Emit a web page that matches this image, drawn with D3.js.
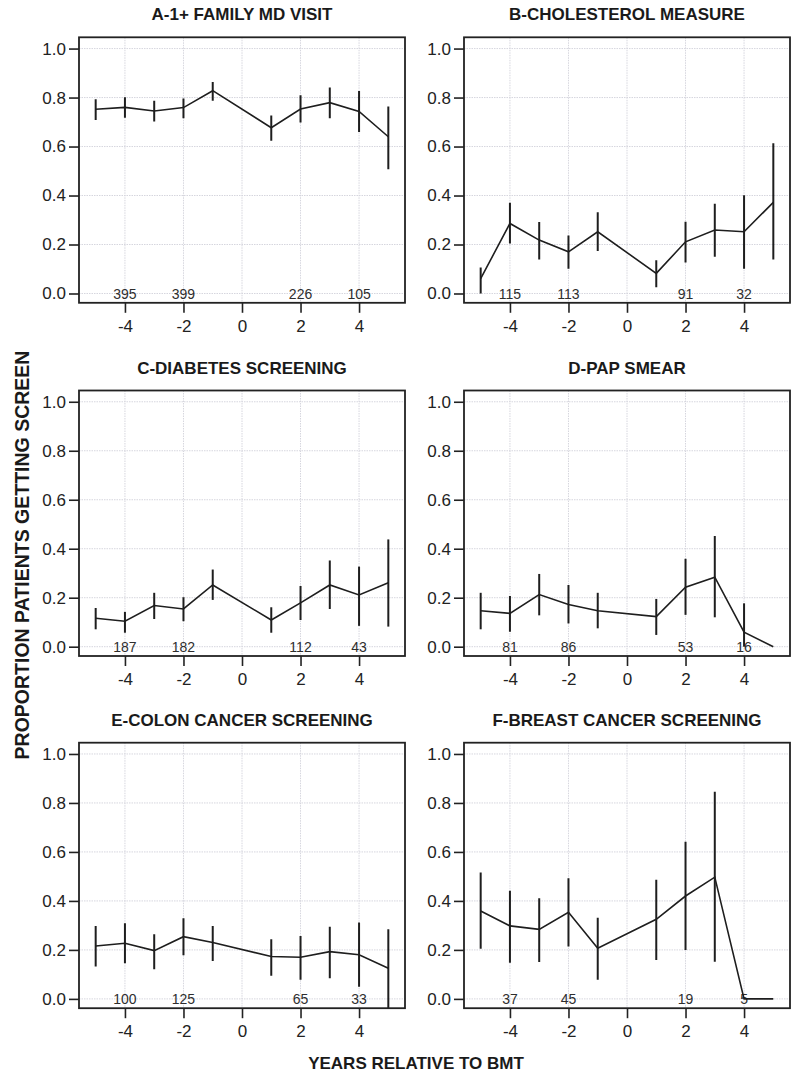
<!DOCTYPE html>
<html>
<head>
<meta charset="utf-8">
<script src="https://cdn.jsdelivr.net/npm/d3@7"></script>
<style>
  html, body { margin: 0; padding: 0; background: #fff; }
  svg { display: block; font-family: "Liberation Sans", Arial, Helvetica, sans-serif; }
</style>
</head>
<body>
<svg id="chart" width="795" height="1073"></svg>
<script>
// ---------- data ----------
const years = [-5, -4, -3, -2, -1, 1, 2, 3, 4, 5];
const xTicks = [-4, -2, 0, 2, 4];
const yTicks = [0, 0.2, 0.4, 0.6, 0.8, 1.0];
const countYears = [-4, -2, 2, 4];

const panelTitles = [
  "A-1+ FAMILY MD VISIT", "B-CHOLESTEROL MEASURE",
  "C-DIABETES SCREENING", "D-PAP SMEAR",
  "E-COLON CANCER SCREENING", "F-BREAST CANCER SCREENING"
];

const famMdEst = [0.752, 0.760, 0.745, 0.759, 0.828, 0.677, 0.753, 0.779, 0.743, 0.640];
const famMdLo  = [0.708, 0.718, 0.702, 0.715, 0.787, 0.624, 0.698, 0.715, 0.659, 0.507];
const famMdHi  = [0.793, 0.801, 0.787, 0.796, 0.864, 0.727, 0.809, 0.841, 0.827, 0.763];
const famMdN   = [395, 399, 226, 105];

const cholEst = [0.061, 0.286, 0.218, 0.170, 0.252, 0.082, 0.211, 0.259, 0.252, 0.372];
const cholLo  = [0.000, 0.204, 0.139, 0.101, 0.174, 0.025, 0.127, 0.150, 0.101, 0.139];
const cholHi  = [0.106, 0.371, 0.292, 0.237, 0.332, 0.136, 0.293, 0.366, 0.401, 0.613];
const cholN   = [115, 113, 91, 32];

const diabEst = [0.116, 0.104, 0.168, 0.154, 0.252, 0.109, 0.179, 0.252, 0.211, 0.261];
const diabLo  = [0.071, 0.057, 0.113, 0.104, 0.191, 0.057, 0.109, 0.154, 0.085, 0.082];
const diabHi  = [0.158, 0.142, 0.220, 0.202, 0.315, 0.161, 0.248, 0.352, 0.327, 0.438];
const diabN   = [187, 182, 112, 43];

const papEst = [0.147, 0.136, 0.213, 0.172, 0.147, 0.123, 0.243, 0.284, 0.059, 0.000];
const papLo  = [0.071, 0.061, 0.128, 0.095, 0.075, 0.048, 0.130, 0.120, 0.000, 0.000];
const papHi  = [0.220, 0.207, 0.297, 0.252, 0.220, 0.195, 0.359, 0.452, 0.177, 0.000];
const papN   = [81, 86, 53, 16];

const colonEst = [0.216, 0.227, 0.197, 0.254, 0.230, 0.173, 0.170, 0.193, 0.180, 0.125];
const colonLo  = [0.132, 0.146, 0.121, 0.178, 0.155, 0.094, 0.078, 0.084, 0.050, -0.060];
const colonHi  = [0.298, 0.309, 0.264, 0.329, 0.298, 0.244, 0.257, 0.295, 0.312, 0.284];
const colonN   = [100, 125, 65, 33];

const breastEst = [0.359, 0.298, 0.284, 0.354, 0.207, 0.325, 0.420, 0.497, 0.000, 0.000];
const breastLo  = [0.205, 0.148, 0.151, 0.214, 0.078, 0.159, 0.200, 0.152, 0.000, 0.000];
const breastHi  = [0.516, 0.442, 0.411, 0.493, 0.331, 0.486, 0.642, 0.846, 0.000, 0.000];
const breastN   = [37, 45, 19, 5];

const xLabel = "YEARS RELATIVE TO BMT";
const yLabel = "PROPORTION PATIENTS GETTING SCREEN";

// ---------- assemble ----------
const panels = [
  [famMdEst, famMdLo, famMdHi, famMdN],
  [cholEst, cholLo, cholHi, cholN],
  [diabEst, diabLo, diabHi, diabN],
  [papEst, papLo, papHi, papN],
  [colonEst, colonLo, colonHi, colonN],
  [breastEst, breastLo, breastHi, breastN]
].map((p, i) => ({
  title: panelTitles[i],
  pts: years.map((yr, j) => ({ x: yr, est: p[0][j], lo: p[1][j], hi: p[2][j] })),
  counts: countYears.map((yr, j) => ({ x: yr, n: p[3][j] }))
}));

// ---------- layout ----------
const colLeft = [79, 464];
const panelW = 326;
const rowTop = [37.3, 390.5, 742.7];
const panelH = 265.5;

const svg = d3.select("#chart");
const defs = svg.append("defs");
const ink = "#1e1e1e";

panels.forEach((p, i) => {
  const col = i % 2, row = Math.floor(i / 2);
  const x0 = colLeft[col], y0 = rowTop[row];
  const x = d3.scaleLinear().domain([-5.57, 5.57]).range([x0, x0 + panelW]);
  const y = d3.scaleLinear().domain([-0.038, 1.046]).range([y0 + panelH, y0]);

  const g = svg.append("g");
  const clipId = "clip" + i;
  defs.append("clipPath").attr("id", clipId)
    .append("rect").attr("x", x0).attr("y", y0).attr("width", panelW).attr("height", panelH);

  // grid
  g.append("g").selectAll("line.h").data(yTicks).join("line")
    .attr("x1", x0).attr("x2", x0 + panelW)
    .attr("y1", d => y(d)).attr("y2", d => y(d))
    .attr("stroke", "#d6d6de").attr("stroke-width", 1).attr("stroke-dasharray", "1.5,1");
  g.append("g").selectAll("line.v").data(xTicks).join("line")
    .attr("y1", y0).attr("y2", y0 + panelH)
    .attr("x1", d => x(d)).attr("x2", d => x(d))
    .attr("stroke", "#d6d6de").attr("stroke-width", 1).attr("stroke-dasharray", "1.5,1");

  // counts
  g.append("g").selectAll("text").data(p.counts).join("text")
    .attr("x", d => x(d.x)).attr("y", y(0)).attr("dy", "0.36em")
    .attr("text-anchor", "middle").attr("font-size", 14).attr("fill", "#2e2e2e")
    .text(d => d.n);

  const dg = g.append("g").attr("clip-path", `url(#${clipId})`);
  // error bars
  dg.selectAll("line.err").data(p.pts.filter(d => d.hi > d.lo)).join("line")
    .attr("x1", d => x(d.x)).attr("x2", d => x(d.x))
    .attr("y1", d => y(d.lo)).attr("y2", d => y(d.hi))
    .attr("stroke", ink).attr("stroke-width", 2);
  // line
  dg.append("path").datum(p.pts)
    .attr("d", d3.line().x(d => x(d.x)).y(d => y(d.est)))
    .attr("fill", "none").attr("stroke", ink).attr("stroke-width", 1.6);

  // box
  g.append("rect").attr("x", x0).attr("y", y0).attr("width", panelW).attr("height", panelH)
    .attr("fill", "none").attr("stroke", "#222").attr("stroke-width", 1.8);

  // axes
  const ya = g.append("g").attr("transform", `translate(${x0},0)`)
    .call(d3.axisLeft(y).tickValues(yTicks).tickFormat(d3.format(".1f")).tickSize(10).tickPadding(3));
  const xa = g.append("g").attr("transform", `translate(0,${y0 + panelH})`)
    .call(d3.axisBottom(x).tickValues(xTicks).tickFormat(d => String(d)).tickSize(10).tickPadding(7));
  [ya, xa].forEach(a => {
    a.select(".domain").remove();
    a.selectAll(".tick line").attr("stroke", "#222").attr("stroke-width", 1.6);
    a.selectAll(".tick text").attr("font-size", 17).attr("fill", "#222")
      .attr("font-family", "Liberation Sans, Arial, sans-serif");
  });

  // title
  svg.append("text").attr("x", x0 + panelW / 2).attr("y", y0 - 23).attr("dy", "0.36em")
    .attr("text-anchor", "middle").attr("font-size", 17).attr("font-weight", "bold")
    .attr("fill", "#1a1a1a").text(p.title);
});

svg.append("text").attr("x", 416).attr("y", 1063).attr("dy", "0.36em")
  .attr("text-anchor", "middle").attr("font-size", 17).attr("font-weight", "bold")
  .attr("fill", "#1a1a1a").text(xLabel);

svg.append("text").attr("transform", "translate(21.5,555) rotate(-90)").attr("dy", "0.36em")
  .attr("text-anchor", "middle").attr("font-size", 19.5).attr("font-weight", "bold")
  .attr("fill", "#1a1a1a").text(yLabel);
</script>
</body>
</html>
